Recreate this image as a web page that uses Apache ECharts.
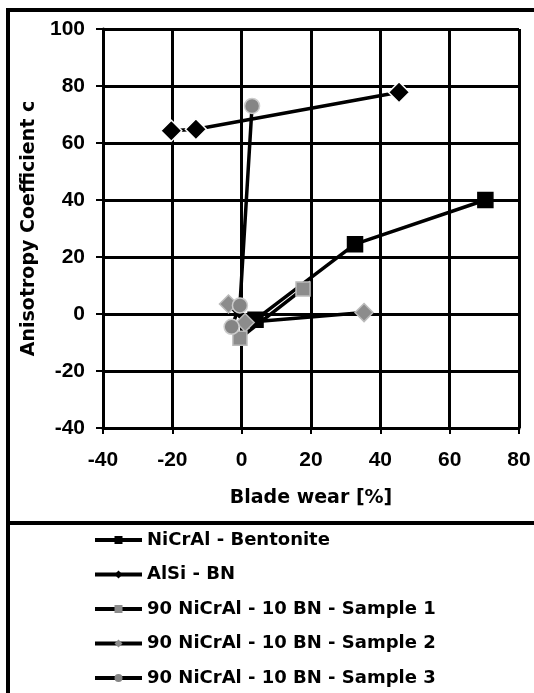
<!DOCTYPE html>
<html><head><meta charset="utf-8">
<script src="https://cdn.jsdelivr.net/npm/echarts@6/dist/echarts.min.js"></script>
<style>html,body{margin:0;padding:0;background:#fff}#c{width:534px;height:693px}</style>
</head><body><div id="c"></div>
<script>
var seriesNames = ['NiCrAl - Bentonite','AlSi - BN','90 NiCrAl - 10 BN - Sample 1','90 NiCrAl - 10 BN - Sample 2','90 NiCrAl - 10 BN - Sample 3'];
var bentonite = [[4,-2],[32.7,24.5],[70.3,40]];
var alsiBN = [[-20.3,64.3],[-13.2,64.8],[45.4,77.8]];
var sample1 = [[-0.5,-8.5],[17.7,8.8]];
var sample2 = [[-3.8,3.5],[1,-3],[35.3,0.5]];
var sample3 = [[-2.9,-4.5],[-0.5,3],[3,73]];
var xTicks = {min:-40,max:80,interval:20};
var yTicks = {min:-40,max:100,interval:20};

var F = 'DejaVu Sans, sans-serif';
var FT = 'Liberation Sans, Arial, sans-serif';
var chart = echarts.init(document.getElementById('c'));
function ser(name,data,symbol,size,color,border){
  return {type:'line',name:name,data:data,symbol:symbol,symbolSize:size,showSymbol:true,
    lineStyle:{color:'#000',width:3.5},
    itemStyle:{color:color,borderColor:border,borderWidth:1.5},
    z:3};
}
chart.setOption({
  animation:false,
  grid:{left:103,right:15,top:29,bottom:265,containLabel:false},
  xAxis:{type:'value',min:xTicks.min,max:xTicks.max,interval:xTicks.interval,
    name:'Blade wear [%]',nameLocation:'middle',nameGap:61,
    nameTextStyle:{fontFamily:F,fontWeight:'bold',fontSize:19,color:'#000'},
    axisLine:{onZero:false,lineStyle:{color:'#000',width:3}},
    axisTick:{show:true,length:6,lineStyle:{color:'#000',width:2}},
    axisLabel:{fontFamily:FT,fontWeight:'bold',fontSize:21,color:'#000',margin:22},
    splitLine:{show:true,lineStyle:{color:'#000',width:3}}},
  yAxis:{type:'value',min:yTicks.min,max:yTicks.max,interval:yTicks.interval,
    name:'Anisotropy Coefficient c',nameLocation:'middle',nameGap:63,
    nameTextStyle:{fontFamily:F,fontWeight:'bold',fontSize:19,color:'#000'},
    axisLine:{onZero:false,lineStyle:{color:'#000',width:3}},
    axisTick:{show:true,length:7,lineStyle:{color:'#000',width:2}},
    axisLabel:{fontFamily:FT,fontWeight:'bold',fontSize:21,color:'#000',margin:18},
    splitLine:{show:true,lineStyle:{color:'#000',width:3}}},
  legend:{orient:'vertical',left:93,top:530,padding:0,itemGap:14.5,itemWidth:47,itemHeight:10,
    textStyle:{fontFamily:F,fontWeight:'bold',fontSize:18,color:'#000',lineHeight:20},
    itemStyle:{borderWidth:0},
    lineStyle:{color:'#000',width:4},
    data:seriesNames},
  graphic:[
    {type:'line',shape:{x1:8,y1:10,x2:534,y2:10},style:{stroke:'#000',lineWidth:4}},
    {type:'line',shape:{x1:8,y1:8,x2:8,y2:693},style:{stroke:'#000',lineWidth:4}},
    {type:'line',shape:{x1:6,y1:523,x2:534,y2:523},style:{stroke:'#000',lineWidth:4}}
  ],
  series:[
    ser(seriesNames[0],bentonite,'rect',15,'#000','#000'),
    ser(seriesNames[1],alsiBN,'diamond',21,'#000','#fff'),
    ser(seriesNames[2],sample1,'rect',14,'#8c8c8c','#bbb'),
    ser(seriesNames[3],sample2,'diamond',18,'#8c8c8c','#bbb'),
    ser(seriesNames[4],sample3,'circle',15,'#858585','#ccc')
  ]
});
</script></body></html>
